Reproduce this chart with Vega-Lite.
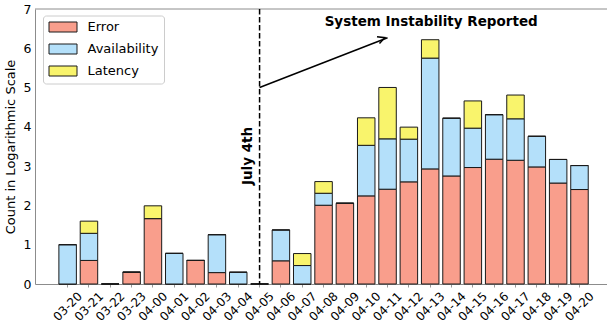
{
  "$schema": "https://vega.github.io/schema/vega-lite/v6.json",
  "width": 572,
  "height": 275,
  "autosize": {"type": "none"},
  "padding": {"left": 35, "top": 9, "right": 0, "bottom": 44},
  "background": "white",
  "config": {
    "font": "DejaVu Sans",
    "view": {"stroke": null},
    "axis": {"domainColor": "#8c8c8c", "domainWidth": 1, "labelColor": "black", "titleColor": "black", "grid": false},
    "axisY": {"labelOverlap": false, "labelFlush": false, "labelBound": false, "ticks": false, "labelPadding": 4, "labelFontSize": 12.5, "values": [0, 1, 2, 3, 4, 5, 6, 7], "title": "Count in Logarithmic Scale", "titleFontSize": 13, "titleFontWeight": "normal", "titlePadding": 6}
  },
  "datasets": {
    "bars": [
      {"date": "03-20", "type": "Error", "rank": 0, "value": 0}, {"date": "03-20", "type": "Availability", "rank": 1, "value": 1.0}, {"date": "03-20", "type": "Latency", "rank": 2, "value": 0},
      {"date": "03-21", "type": "Error", "rank": 0, "value": 0.6}, {"date": "03-21", "type": "Availability", "rank": 1, "value": 0.69}, {"date": "03-21", "type": "Latency", "rank": 2, "value": 0.31},
      {"date": "03-22", "type": "Error", "rank": 0, "value": 0}, {"date": "03-22", "type": "Availability", "rank": 1, "value": 0}, {"date": "03-22", "type": "Latency", "rank": 2, "value": 0},
      {"date": "03-23", "type": "Error", "rank": 0, "value": 0.3}, {"date": "03-23", "type": "Availability", "rank": 1, "value": 0}, {"date": "03-23", "type": "Latency", "rank": 2, "value": 0},
      {"date": "04-00", "type": "Error", "rank": 0, "value": 1.665}, {"date": "04-00", "type": "Availability", "rank": 1, "value": 0}, {"date": "04-00", "type": "Latency", "rank": 2, "value": 0.325},
      {"date": "04-01", "type": "Error", "rank": 0, "value": 0}, {"date": "04-01", "type": "Availability", "rank": 1, "value": 0.78}, {"date": "04-01", "type": "Latency", "rank": 2, "value": 0},
      {"date": "04-02", "type": "Error", "rank": 0, "value": 0.6}, {"date": "04-02", "type": "Availability", "rank": 1, "value": 0}, {"date": "04-02", "type": "Latency", "rank": 2, "value": 0},
      {"date": "04-03", "type": "Error", "rank": 0, "value": 0.29}, {"date": "04-03", "type": "Availability", "rank": 1, "value": 0.965}, {"date": "04-03", "type": "Latency", "rank": 2, "value": 0},
      {"date": "04-04", "type": "Error", "rank": 0, "value": 0}, {"date": "04-04", "type": "Availability", "rank": 1, "value": 0.3}, {"date": "04-04", "type": "Latency", "rank": 2, "value": 0},
      {"date": "04-05", "type": "Error", "rank": 0, "value": 0}, {"date": "04-05", "type": "Availability", "rank": 1, "value": 0}, {"date": "04-05", "type": "Latency", "rank": 2, "value": 0},
      {"date": "04-06", "type": "Error", "rank": 0, "value": 0.59}, {"date": "04-06", "type": "Availability", "rank": 1, "value": 0.785}, {"date": "04-06", "type": "Latency", "rank": 2, "value": 0},
      {"date": "04-07", "type": "Error", "rank": 0, "value": 0}, {"date": "04-07", "type": "Availability", "rank": 1, "value": 0.47}, {"date": "04-07", "type": "Latency", "rank": 2, "value": 0.305},
      {"date": "04-08", "type": "Error", "rank": 0, "value": 2.005}, {"date": "04-08", "type": "Availability", "rank": 1, "value": 0.305}, {"date": "04-08", "type": "Latency", "rank": 2, "value": 0.297},
      {"date": "04-09", "type": "Error", "rank": 0, "value": 2.055}, {"date": "04-09", "type": "Availability", "rank": 1, "value": 0}, {"date": "04-09", "type": "Latency", "rank": 2, "value": 0},
      {"date": "04-10", "type": "Error", "rank": 0, "value": 2.243}, {"date": "04-10", "type": "Availability", "rank": 1, "value": 1.287}, {"date": "04-10", "type": "Latency", "rank": 2, "value": 0.7},
      {"date": "04-11", "type": "Error", "rank": 0, "value": 2.413}, {"date": "04-11", "type": "Availability", "rank": 1, "value": 1.282}, {"date": "04-11", "type": "Latency", "rank": 2, "value": 1.308},
      {"date": "04-12", "type": "Error", "rank": 0, "value": 2.6}, {"date": "04-12", "type": "Availability", "rank": 1, "value": 1.087}, {"date": "04-12", "type": "Latency", "rank": 2, "value": 0.306},
      {"date": "04-13", "type": "Error", "rank": 0, "value": 2.93}, {"date": "04-13", "type": "Availability", "rank": 1, "value": 2.82}, {"date": "04-13", "type": "Latency", "rank": 2, "value": 0.468},
      {"date": "04-14", "type": "Error", "rank": 0, "value": 2.75}, {"date": "04-14", "type": "Availability", "rank": 1, "value": 1.47}, {"date": "04-14", "type": "Latency", "rank": 2, "value": 0},
      {"date": "04-15", "type": "Error", "rank": 0, "value": 2.965}, {"date": "04-15", "type": "Availability", "rank": 1, "value": 1.002}, {"date": "04-15", "type": "Latency", "rank": 2, "value": 0.693},
      {"date": "04-16", "type": "Error", "rank": 0, "value": 3.177}, {"date": "04-16", "type": "Availability", "rank": 1, "value": 1.133}, {"date": "04-16", "type": "Latency", "rank": 2, "value": 0},
      {"date": "04-17", "type": "Error", "rank": 0, "value": 3.15}, {"date": "04-17", "type": "Availability", "rank": 1, "value": 1.055}, {"date": "04-17", "type": "Latency", "rank": 2, "value": 0.605},
      {"date": "04-18", "type": "Error", "rank": 0, "value": 2.98}, {"date": "04-18", "type": "Availability", "rank": 1, "value": 0.78}, {"date": "04-18", "type": "Latency", "rank": 2, "value": 0},
      {"date": "04-19", "type": "Error", "rank": 0, "value": 2.57}, {"date": "04-19", "type": "Availability", "rank": 1, "value": 0.6}, {"date": "04-19", "type": "Latency", "rank": 2, "value": 0},
      {"date": "04-20", "type": "Error", "rank": 0, "value": 2.405}, {"date": "04-20", "type": "Availability", "rank": 1, "value": 0.61}, {"date": "04-20", "type": "Latency", "rank": 2, "value": 0}
    ]
  },
  "layer": [
    {
      "data": {"name": "bars"},
      "mark": {"type": "bar", "stroke": "#1a1a1a", "strokeWidth": 1},
      "encoding": {
        "x": {
          "field": "date", "type": "nominal",
          "scale": {
            "domain": ["03-20", "03-21", "03-22", "03-23", "04-00", "04-01", "04-02", "04-03", "04-04", "04-05", "04-06", "04-07", "04-08", "04-09", "04-10", "04-11", "04-12", "04-13", "04-14", "04-15", "04-16", "04-17", "04-18", "04-19", "04-20"],
            "paddingInner": 0.18, "paddingOuter": 1.14, "align": 0.56
          },
          "axis": {"title": null, "labelAngle": -45, "labelAlign": "center", "labelBaseline": "middle", "labelPadding": 19, "tickSize": 3, "tickColor": "#999999", "labelFontSize": 12}
        },
        "y": {
          "field": "value", "type": "quantitative", "stack": "zero",
          "scale": {"domain": [0, 7], "nice": false},
          "axis": {"title": "Count in Logarithmic Scale", "values": [0, 1, 2, 3, 4, 5, 6, 7], "labelOverlap": false}
        },
        "order": {"field": "rank", "type": "quantitative", "sort": "ascending"},
        "color": {
          "field": "type", "type": "nominal",
          "sort": ["Error", "Availability", "Latency"],
          "scale": {"domain": ["Error", "Availability", "Latency"], "range": ["#f99e8c", "#b4e0fa", "#f9f46c"]},
          "legend": {
            "title": null, "orient": "none", "legendX": 8, "legendY": 6.5,
            "fillColor": "white", "strokeColor": "#cccccc", "cornerRadius": 3, "padding": 5,
            "symbolType": "M-2.8,-1H2.8V1H-2.8Z", "symbolSize": 100, "symbolStrokeColor": "#1a1a1a", "symbolStrokeWidth": 1, "symbolOpacity": 1,
            "symbolOffset": 8.5, "labelOffset": 18, "labelFontSize": 13, "labelColor": "black", "rowPadding": 7
          }
        }
      }
    },
    {
      "data": {"values": [{"top": 7}]},
      "mark": {"type": "rule", "color": "#8c8c8c", "strokeWidth": 1},
      "encoding": {"y": {"field": "top", "type": "quantitative", "axis": {"title": "Count in Logarithmic Scale", "values": [0, 1, 2, 3, 4, 5, 6, 7], "labelOverlap": false}}}
    },
    {
      "data": {"values": [{"date": "04-05"}]},
      "mark": {"type": "rule", "color": "black", "strokeWidth": 1.5, "strokeDash": [5.5, 2.5]},
      "encoding": {"x": {"field": "date", "type": "nominal"}}
    },
    {
      "data": {"values": [{"date": "04-05", "date2": "04-11", "y": 5.0, "y2": 6.27}]},
      "mark": {"type": "rule", "color": "black", "strokeWidth": 1.5},
      "encoding": {
        "x": {"field": "date", "type": "nominal"},
        "x2": {"field": "date2"},
        "x2Offset": {"value": 6},
        "y": {"field": "y", "type": "quantitative", "axis": {"title": "Count in Logarithmic Scale", "values": [0, 1, 2, 3, 4, 5, 6, 7], "labelOverlap": false}},
        "y2": {"field": "y2"}
      }
    },
    {
      "data": {"values": [{"date": "04-11", "y": 6.27}]},
      "mark": {"type": "point", "shape": "M-2,-1L0,0L-2,1", "size": 49, "angle": 339.5, "filled": false, "stroke": "black", "strokeWidth": 1.5, "opacity": 1},
      "encoding": {
        "x": {"field": "date", "type": "nominal"},
        "xOffset": {"value": 6},
        "y": {"field": "y", "type": "quantitative", "axis": {"title": "Count in Logarithmic Scale", "values": [0, 1, 2, 3, 4, 5, 6, 7], "labelOverlap": false}}
      }
    },
    {
      "data": {"values": [{"date": "04-05", "y": 3.26, "label": "July 4th"}]},
      "mark": {"type": "text", "angle": 270, "fontWeight": "bold", "fontSize": 13.5, "align": "center", "baseline": "middle", "dx": 0, "dy": -12, "color": "black"},
      "encoding": {
        "x": {"field": "date", "type": "nominal"},
        "y": {"field": "y", "type": "quantitative", "axis": {"title": "Count in Logarithmic Scale", "values": [0, 1, 2, 3, 4, 5, 6, 7], "labelOverlap": false}},
        "text": {"field": "label"}
      }
    },
    {
      "data": {"values": [{"date": "04-13", "y": 6.66, "label": "System Instability Reported"}]},
      "mark": {"type": "text", "fontWeight": "bold", "fontSize": 13.5, "align": "center", "baseline": "middle", "dx": 1, "color": "black"},
      "encoding": {
        "x": {"field": "date", "type": "nominal"},
        "y": {"field": "y", "type": "quantitative", "axis": {"title": "Count in Logarithmic Scale", "values": [0, 1, 2, 3, 4, 5, 6, 7], "labelOverlap": false}},
        "text": {"field": "label"}
      }
    }
  ]
}
